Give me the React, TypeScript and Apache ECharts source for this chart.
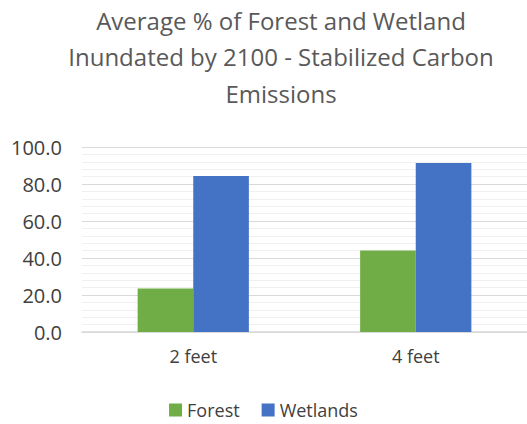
import React, { useEffect, useRef } from "react";
import * as echarts from "echarts";

const categories = ["2 feet", "4 feet"];
const forest = [23.5, 44.0];
const wetlands = [84.3, 91.3];
const titleText = "Average % of Forest and Wetland\nInundated by 2100 - Stabilized Carbon\nEmissions";

export default function App() {
  const ref = useRef<HTMLDivElement>(null);
  useEffect(() => {
    const chart = echarts.init(ref.current!, null, { renderer: "svg" });
    const font = "'Open Sans', 'Noto Sans', sans-serif";
    chart.setOption({
      animation: false,
      textStyle: { fontFamily: font },
      title: {
        text: titleText,
        left: 276,
        textAlign: "center",
        top: -3,
        textStyle: { fontFamily: font, fontSize: 24, fontWeight: "normal", color: "#595959", lineHeight: 36.5 },
      },
      grid: { left: 82, right: 0, top: 147, bottom: 92 },
      xAxis: {
        type: "category",
        data: categories,
        axisLine: { lineStyle: { color: "#d9d9d9", width: 1.5 } },
        axisTick: { show: false },
        axisLabel: { color: "#404040", fontSize: 18, margin: 15, fontFamily: font },
      },
      yAxis: {
        type: "value",
        min: 0,
        max: 100,
        interval: 20,
        axisLine: { show: false },
        axisTick: { show: false },
        axisLabel: { color: "#404040", fontSize: 20, margin: 20, fontFamily: font, formatter: (v: number) => v.toFixed(1) },
        splitLine: { lineStyle: { color: "#d9d9d9", width: 1 } },
        minorTick: { show: false, splitNumber: 5 },
        minorSplitLine: { show: true, lineStyle: { color: "#f0f0f0", width: 1 } },
      },
      legend: {
        top: 399,
        left: "center",
        itemWidth: 13,
        itemHeight: 13,
        itemGap: 22,
        padding: 2,
        icon: "rect",
        textStyle: { color: "#404040", fontSize: 18, fontFamily: font },
        data: ["Forest", "Wetlands"],
      },
      series: [
        { name: "Forest", type: "bar", data: forest, itemStyle: { color: "#70ad47" }, barGap: "0%", barCategoryGap: "50%" },
        { name: "Wetlands", type: "bar", data: wetlands, itemStyle: { color: "#4472c4" }, barGap: "0%", barCategoryGap: "50%" },
      ],
    });
    return () => chart.dispose();
  }, []);
  return <div ref={ref} style={{ width: 527, height: 424, position: "absolute", left: 0, top: 0, background: "#fff" }} />;
}
